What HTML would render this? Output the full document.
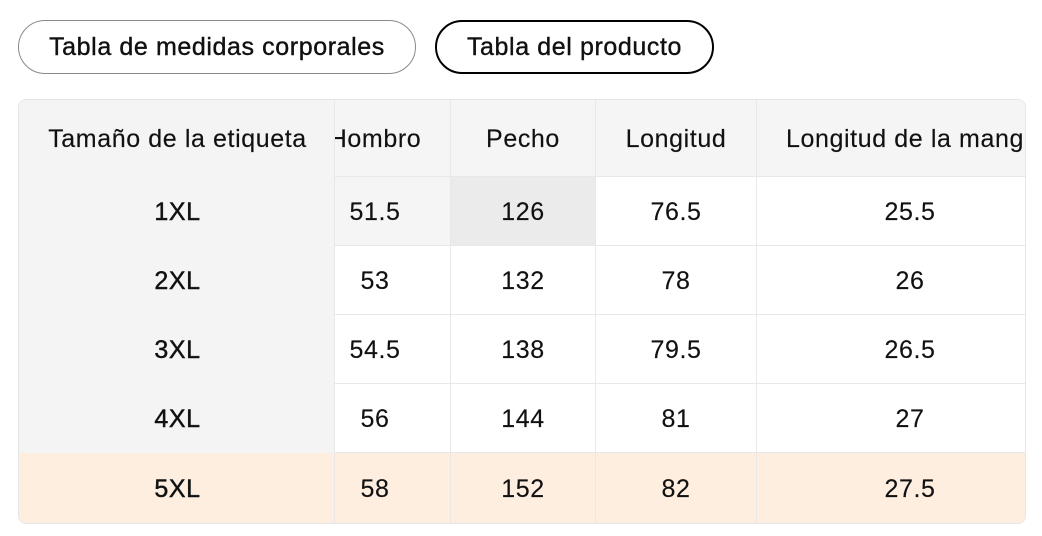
<!DOCTYPE html>
<html>
<head>
<meta charset="utf-8">
<style>
  html,body{margin:0;padding:0;background:#fff;}
  body{width:1042px;height:536px;position:relative;overflow:hidden;
       font-family:"Liberation Sans","DejaVu Sans",sans-serif;color:#111;}
  .btn{position:absolute;box-sizing:border-box;border-radius:30px;display:flex;
       align-items:center;justify-content:center;font-size:25px;letter-spacing:0.6px;
       -webkit-text-stroke:0.4px #111;color:#111;padding-top:1px;}
  #b1{left:18px;top:20px;width:398px;height:54px;border:1px solid #8a8a8a;}
  #b2{left:435px;top:20px;width:279px;height:54px;border:2.6px solid #000;}
  #tbl{position:absolute;left:18px;top:99px;width:1008px;height:425px;box-sizing:border-box;
       border:1px solid #e6e6e6;border-radius:8px;overflow:hidden;background:#fff;}
  .bg{position:absolute;}
  .hl{position:absolute;height:1px;background:#e8e8e8;}
  .vl{position:absolute;width:1px;background:#e8e8e8;}
  .t{position:absolute;display:flex;align-items:center;justify-content:center;box-sizing:border-box;
     padding-top:2px;font-size:25px;letter-spacing:0.6px;white-space:nowrap;color:#111;
     -webkit-text-stroke:0.15px #111;}
  .b{-webkit-text-stroke:0.45px #111;}
</style>
</head>
<body>
<div class="btn" id="b1">Tabla de medidas corporales</div>
<div class="btn" id="b2">Tabla del producto</div>

<div id="tbl">
  <div class="bg" style="left:0;top:0;width:1010px;height:76px;background:#f5f5f5;"></div>
  <div class="bg" style="left:316px;top:77px;width:115px;height:68px;background:#f5f5f5;"></div>
  <div class="bg" style="left:432px;top:77px;width:144px;height:68px;background:#ebebeb;"></div>
  <div class="bg" style="left:0;top:353px;width:1010px;height:72px;background:#fdeee0;"></div>

  <div class="hl" style="left:315px;top:76px;width:700px;"></div>
  <div class="hl" style="left:315px;top:145px;width:700px;"></div>
  <div class="hl" style="left:315px;top:214px;width:700px;"></div>
  <div class="hl" style="left:315px;top:283px;width:700px;"></div>
  <div class="hl" style="left:315px;top:352px;width:700px;"></div>

  <div class="vl" style="left:431px;top:0;height:425px;"></div>
  <div class="vl" style="left:576px;top:0;height:425px;"></div>
  <div class="vl" style="left:737px;top:0;height:425px;"></div>

  <div class="t" style="left:281px;width:150px;top:0;height:76px;">Hombro</div>
  <div class="t" style="left:432px;width:144px;top:0;height:76px;">Pecho</div>
  <div class="t" style="left:577px;width:160px;top:0;height:76px;">Longitud</div>
  <div class="t" style="left:741px;width:320px;top:0;height:76px;justify-content:flex-start;padding-left:26px;">Longitud de la manga</div>

  <div class="t" style="left:281px;width:150px;top:77px;height:68px;">51.5</div>
  <div class="t" style="left:432px;width:144px;top:77px;height:68px;">126</div>
  <div class="t" style="left:577px;width:160px;top:77px;height:68px;">76.5</div>
  <div class="t" style="left:741px;width:300px;top:77px;height:68px;">25.5</div>

  <div class="t" style="left:281px;width:150px;top:146px;height:68px;">53</div>
  <div class="t" style="left:432px;width:144px;top:146px;height:68px;">132</div>
  <div class="t" style="left:577px;width:160px;top:146px;height:68px;">78</div>
  <div class="t" style="left:741px;width:300px;top:146px;height:68px;">26</div>

  <div class="t" style="left:281px;width:150px;top:215px;height:68px;">54.5</div>
  <div class="t" style="left:432px;width:144px;top:215px;height:68px;">138</div>
  <div class="t" style="left:577px;width:160px;top:215px;height:68px;">79.5</div>
  <div class="t" style="left:741px;width:300px;top:215px;height:68px;">26.5</div>

  <div class="t" style="left:281px;width:150px;top:284px;height:68px;">56</div>
  <div class="t" style="left:432px;width:144px;top:284px;height:68px;">144</div>
  <div class="t" style="left:577px;width:160px;top:284px;height:68px;">81</div>
  <div class="t" style="left:741px;width:300px;top:284px;height:68px;">27</div>

  <div class="t" style="left:281px;width:150px;top:353px;height:70px;">58</div>
  <div class="t" style="left:432px;width:144px;top:353px;height:70px;">152</div>
  <div class="t" style="left:577px;width:160px;top:353px;height:70px;">82</div>
  <div class="t" style="left:741px;width:300px;top:353px;height:70px;">27.5</div>

  <div class="bg" style="left:0;top:0;width:315px;height:353px;background:#f4f4f4;"></div>
  <div class="bg" style="left:0;top:353px;width:315px;height:72px;background:#fdeee0;"></div>
  <div class="vl" style="left:315px;top:0;height:425px;"></div>

  <div class="t" style="left:0;width:317px;top:0;height:76px;">Tamaño de la etiqueta</div>
  <div class="t b" style="left:0;width:317px;top:77px;height:68px;">1XL</div>
  <div class="t b" style="left:0;width:317px;top:146px;height:68px;">2XL</div>
  <div class="t b" style="left:0;width:317px;top:215px;height:68px;">3XL</div>
  <div class="t b" style="left:0;width:317px;top:284px;height:68px;">4XL</div>
  <div class="t b" style="left:0;width:317px;top:353px;height:70px;">5XL</div>
</div>
</body>
</html>
